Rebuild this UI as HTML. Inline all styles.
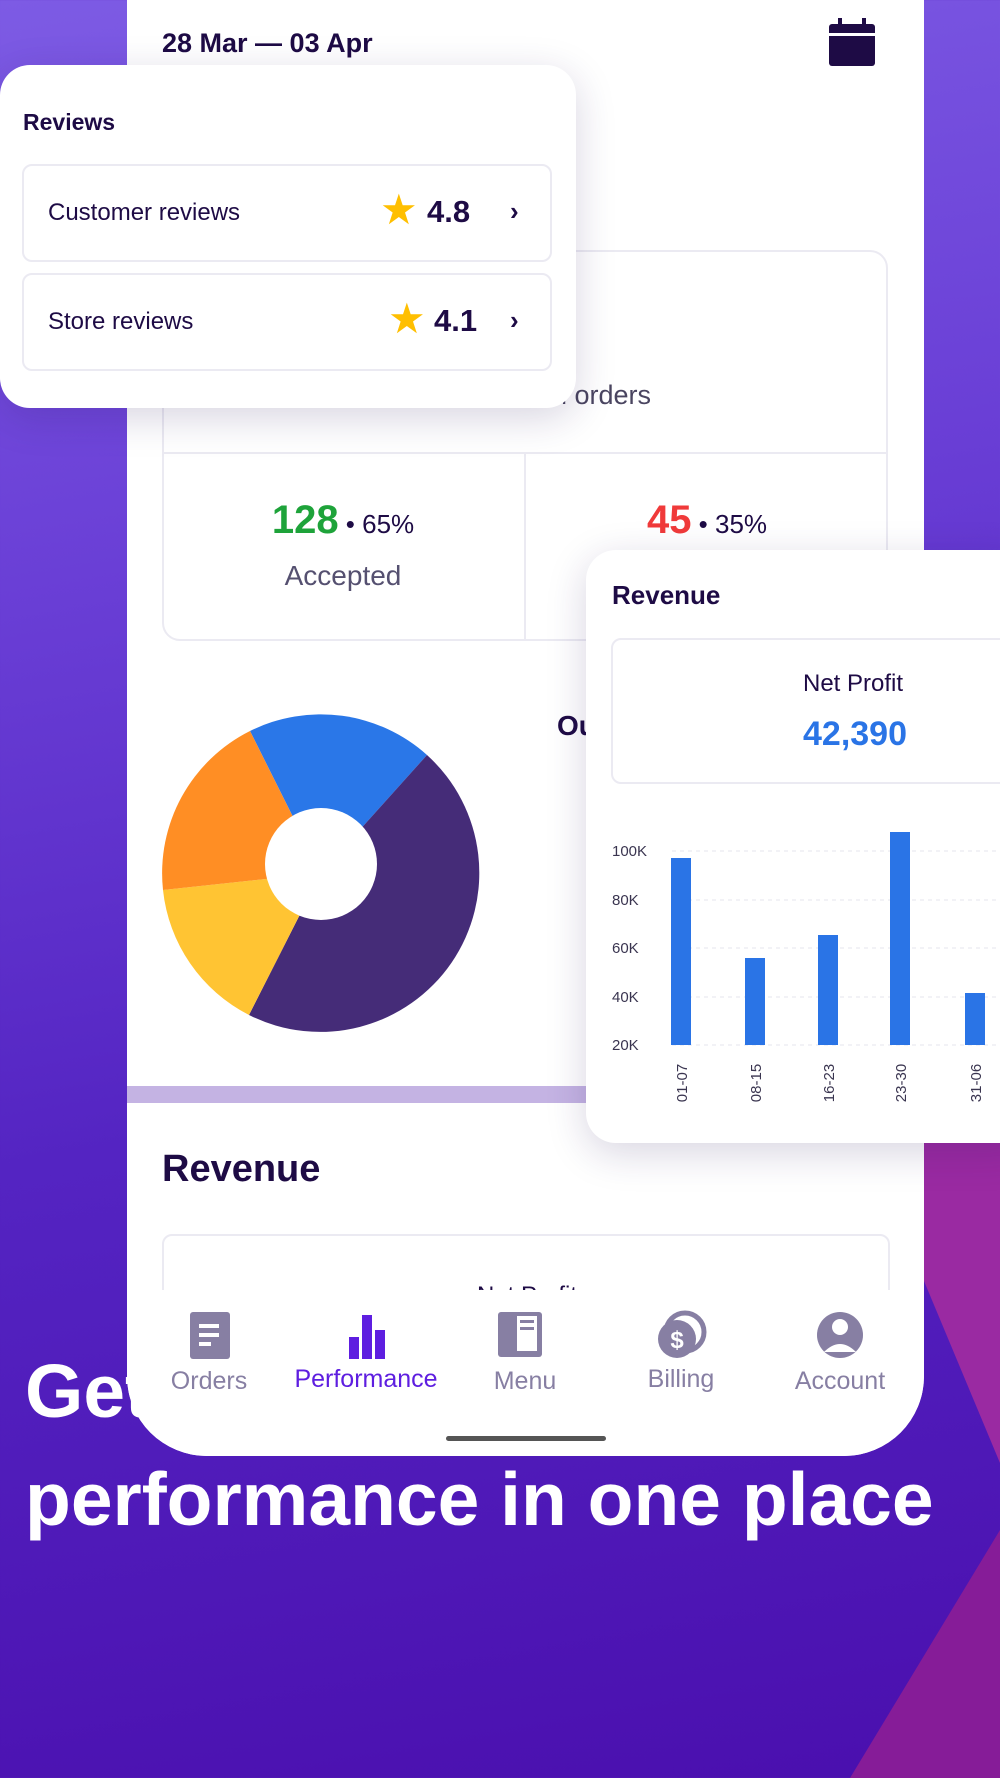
<!DOCTYPE html>
<html><head><meta charset="utf-8"><style>
*{margin:0;padding:0;box-sizing:border-box}
body{width:1000px;height:1778px;overflow:hidden;position:relative;font-family:"Liberation Sans",sans-serif;background:linear-gradient(170deg,#7d5be4 0%,#6a3fd6 30%,#5424c2 60%,#4a0fae 100%);color:#1e0b45}
.abs{position:absolute}
.phone{left:127px;top:-80px;width:797px;height:1536px;background:#fff;border-radius:80px;overflow:hidden}
.card{background:#fff;border-radius:30px;box-shadow:0 10px 40px rgba(40,20,90,.18)}
.box{border:2px solid #ebeaf2;border-radius:10px;background:#fff}
.t{white-space:nowrap}
</style></head><body>
<svg class="abs" style="left:0;top:0" width="1000" height="1778">
<polygon points="924,1100 1000,1100 1000,1463 924,1281" fill="#9a2aa2"/>
<polygon points="850,1778 1000,1778 1000,1530" fill="#861c98"/>
</svg>
<div class="abs t" style="left:25px;top:1348px;font-size:75px;font-weight:bold;color:#fff">Get all your</div>
<div class="abs t" style="left:25px;top:1456px;font-size:75px;font-weight:bold;color:#fff">performance in one place</div>

<div class="abs phone">
 <div class="abs t" style="left:35px;top:108px;font-size:27px;font-weight:bold">28 Mar — 03 Apr</div>
 <svg class="abs" style="left:702px;top:98px" width="46" height="48"><rect x="0" y="6" width="46" height="42" rx="3" fill="#1e0b45"/><rect x="0" y="15" width="46" height="3" fill="#fff"/><rect x="9" y="0" width="4" height="10" fill="#1e0b45"/><rect x="33" y="0" width="4" height="10" fill="#1e0b45"/></svg>
 <div class="abs box" style="left:35px;top:330px;width:726px;height:391px;border-radius:18px"></div>
 <div class="abs" style="left:35px;top:532px;width:726px;height:2px;background:#ebeaf2"></div>
 <div class="abs" style="left:397px;top:534px;width:2px;height:186px;background:#ebeaf2"></div>
 <div class="abs t" style="left:425px;top:460px;font-size:27px;color:#4a4560">d orders</div>
 <div class="abs t" style="left:35px;top:578px;width:362px;text-align:center;font-size:26px;color:#1e0b45"><b style="color:#1ea33a;font-size:40px">128</b> • 65%</div>
 <div class="abs t" style="left:35px;top:640px;width:362px;text-align:center;font-size:28px;color:#555070">Accepted</div>
 <div class="abs t" style="left:399px;top:578px;width:362px;text-align:center;font-size:26px;color:#1e0b45"><b style="color:#f03a3a;font-size:40px">45</b> • 35%</div>
 <div class="abs t" style="left:430px;top:790px;font-size:28px;font-weight:bold">Ou</div>
 <svg class="abs" style="left:0;top:0" width="797" height="1200">
  <g transform="translate(194,953)">
   <path d="M0,0 L-71,-142 A159,159 0 0 1 106,-118 Z" fill="#2a77e8"/>
   <path d="M0,0 L106,-118 A159,159 0 0 1 -72,142 Z" fill="#452c78"/>
   <path d="M0,0 L-72,142 A159,159 0 0 1 -158,17 Z" fill="#ffc433"/>
   <path d="M0,0 L-158,17 A159,159 0 0 1 -71,-142 Z" fill="#ff8e24"/>
   <circle cx="0" cy="-9" r="56" fill="#fff"/>
  </g>
 </svg>
 <div class="abs" style="left:0;top:1166px;width:797px;height:17px;background:#c4b3e3"></div>
 <div class="abs t" style="left:35px;top:1228px;font-size:38px;font-weight:bold">Revenue</div>
 <div class="abs box" style="left:35px;top:1314px;width:728px;height:120px"></div>
 <div class="abs t" style="left:300px;top:1362px;width:200px;text-align:center;font-size:24px">Net Profit</div>
 <div class="abs" style="left:0;top:1370px;width:797px;height:170px;background:#fff"></div>
 <svg class="abs" style="left:0;top:1390px" width="797" height="140">
  <g fill="#877fa3">
   <rect x="63" y="2" width="40" height="47" rx="3"/>
   <rect x="371" y="2" width="44" height="45" rx="3"/>
   <circle cx="713" cy="25" r="23"/>
   <circle cx="558" cy="22" r="19" fill="none" stroke="#877fa3" stroke-width="5"/>
   <circle cx="550" cy="29" r="19"/>
  </g>
  <g fill="#fff"><rect x="72" y="14" width="20" height="4"/><rect x="72" y="23" width="20" height="4"/><rect x="72" y="32" width="12" height="4"/>
   <rect x="390" y="6" width="20" height="35"/><circle cx="713" cy="17" r="8"/><path d="M697,42 Q713,26 729,42 Z"/>
   <text x="550" y="38" font-size="24" font-weight="bold" text-anchor="middle" font-family="Liberation Sans">$</text></g>
  <rect x="393" y="10" width="14" height="3" fill="#877fa3"/><rect x="393" y="17" width="14" height="3" fill="#877fa3"/>
  <g fill="#5e1ee0"><rect x="222" y="27" width="10" height="22"/><rect x="235" y="5" width="10" height="44"/><rect x="248" y="20" width="10" height="29"/></g>
  <rect x="319" y="126" width="160" height="5" rx="2.5" fill="#555"/>
 </svg>
 <div class="abs t" style="left:32px;top:1447px;width:100px;text-align:center;font-size:25px;color:#877fa3">Orders</div>
 <div class="abs t" style="left:164px;top:1445px;width:150px;text-align:center;font-size:25px;color:#5e1ee0">Performance</div>
 <div class="abs t" style="left:348px;top:1447px;width:100px;text-align:center;font-size:25px;color:#877fa3">Menu</div>
 <div class="abs t" style="left:504px;top:1445px;width:100px;text-align:center;font-size:25px;color:#877fa3">Billing</div>
 <div class="abs t" style="left:653px;top:1447px;width:120px;text-align:center;font-size:25px;color:#877fa3">Account</div>
</div>

<div class="abs card" style="left:0;top:65px;width:576px;height:343px">
 <div class="abs t" style="left:23px;top:44px;font-size:23px;font-weight:bold">Reviews</div>
 <div class="abs box" style="left:22px;top:99px;width:530px;height:98px"></div>
 <div class="abs t" style="left:48px;top:134px;font-size:24px">Customer reviews</div>
 <div class="abs t" style="left:380px;top:120px;font-size:42px;color:#ffbf00">★</div>
 <div class="abs t" style="left:427px;top:129px;font-size:31px;font-weight:bold">4.8</div>
 <div class="abs t" style="left:510px;top:131px;font-size:26px;font-weight:bold">›</div>
 <div class="abs box" style="left:22px;top:208px;width:530px;height:98px"></div>
 <div class="abs t" style="left:48px;top:243px;font-size:24px">Store reviews</div>
 <div class="abs t" style="left:388px;top:229px;font-size:42px;color:#ffbf00">★</div>
 <div class="abs t" style="left:434px;top:238px;font-size:31px;font-weight:bold">4.1</div>
 <div class="abs t" style="left:510px;top:240px;font-size:26px;font-weight:bold">›</div>
</div>

<div class="abs card" style="left:586px;top:550px;width:450px;height:593px">
 <div class="abs t" style="left:26px;top:30px;font-size:26px;font-weight:bold">Revenue</div>
 <div class="abs box" style="left:25px;top:88px;width:440px;height:146px"></div>
 <div class="abs t" style="left:217px;top:120px;font-size:24px">Net Profit</div>
 <div class="abs t" style="left:217px;top:165px;font-size:34px;font-weight:bold;color:#2a74e6">42,390</div>
 <svg class="abs" style="left:0;top:0" width="450" height="593" font-family="Liberation Sans">
  <g stroke="#e6e4ee" stroke-dasharray="4 4"><line x1="86" x2="450" y1="301" y2="301"/><line x1="86" x2="450" y1="350" y2="350"/><line x1="86" x2="450" y1="398" y2="398"/><line x1="86" x2="450" y1="447" y2="447"/><line x1="86" x2="450" y1="495" y2="495"/></g>
  <g font-size="15" fill="#3a3550"><text x="26" y="306">100K</text><text x="26" y="355">80K</text><text x="26" y="403">60K</text><text x="26" y="452">40K</text><text x="26" y="500">20K</text></g>
  <g fill="#2a74e6"><rect x="85" y="308" width="20" height="187"/><rect x="159" y="408" width="20" height="87"/><rect x="232" y="385" width="20" height="110"/><rect x="304" y="282" width="20" height="213"/><rect x="379" y="443" width="20" height="52"/></g>
  <g font-size="15" fill="#3a3550" text-anchor="middle"><text transform="translate(101,533) rotate(-90)">01-07</text><text transform="translate(175,533) rotate(-90)">08-15</text><text transform="translate(248,533) rotate(-90)">16-23</text><text transform="translate(320,533) rotate(-90)">23-30</text><text transform="translate(395,533) rotate(-90)">31-06</text></g>
 </svg>
</div>
</body></html>
